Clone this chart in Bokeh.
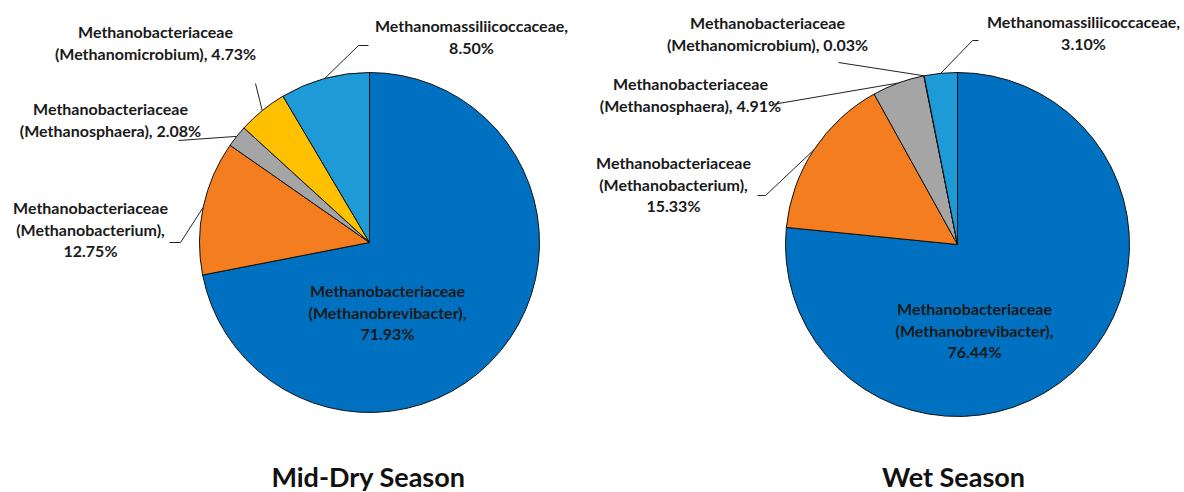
import numpy as np
from bokeh.plotting import figure
from bokeh.models import Range1d, ColumnDataSource
from bokeh.core.properties import value
from bokeh.embed import file_html
from bokeh.resources import INLINE

# ---------------- data ----------------
families = ["Methanobacteriaceae", "Methanobacteriaceae", "Methanobacteriaceae",
            "Methanobacteriaceae", "Methanomassiliicoccaceae"]
genera = ["Methanobrevibacter", "Methanobacterium", "Methanosphaera",
          "Methanomicrobium", ""]
dry_values = [71.93, 12.75, 2.08, 4.73, 8.50]
wet_values = [76.44, 15.33, 4.91, 0.03, 3.10]
season_titles = ["Mid-Dry Season", "Wet Season"]

# ---------------- style / layout ----------------
colors = ["#0070C0", "#F47D20", "#A5A5A5", "#FFC000", "#1E9BD7"]
FONT = "Lato"
TXT = "#1a1a1a"
W, H = 1184, 492


def sy(y):
    return H - y


# label styles: "three" = family / (genus), / pct ; "genus_pct" = family / (genus), pct ; "fam_pct" = family, / pct
pies = [
    dict(values=dry_values, title=season_titles[0], cx=369, cy=242, r=170, title_x=368,
         labels=[
             dict(style="three", x=387, y=290, leader=None),
             dict(style="three", x=90, y=207, leader=[(169, 242), (180, 242)]),
             dict(style="genus_pct", x=110, y=108, leader=[(178, 140)]),
             dict(style="genus_pct", x=155, y=31, leader=[(255, 83)]),
             dict(style="fam_pct", x=471, y=25, leader=[(368, 45), (358, 45)]),
         ]),
    dict(values=wet_values, title=season_titles[1], cx=957, cy=244, r=172, title_x=953,
         labels=[
             dict(style="three", x=974, y=308, leader=None),
             dict(style="three", x=673, y=162, leader=[(757, 195), (765, 195)]),
             dict(style="genus_pct", x=690, y=83, leader=[(772, 104)]),
             dict(style="genus_pct", x=767, y=22, leader=[(838, 62)]),
             dict(style="fam_pct", x=1083, y=21, leader=[(978, 40), (972, 40)]),
         ]),
]

p = figure(width=W, height=H, output_backend="svg", toolbar_location=None,
           x_range=Range1d(0, W), y_range=Range1d(0, H),
           min_border=0, outline_line_color=None)
p.axis.visible = False
p.grid.visible = False
p.background_fill_color = "white"
p.border_fill_color = "white"

LINE_H = 21.5

for pie in pies:
    vals = np.array(pie["values"], dtype=float)
    frac = vals / vals.sum()
    cum = np.concatenate([[0.0], np.cumsum(frac)])
    start = np.pi / 2 - 2 * np.pi * cum[:-1]
    end = np.pi / 2 - 2 * np.pi * cum[1:]
    cx, cyd, r = pie["cx"], sy(pie["cy"]), pie["r"]
    src = ColumnDataSource(dict(start=start, end=end, color=colors))
    p.wedge(x=cx, y=cyd, radius=r, start_angle="start", end_angle="end",
            direction="clock", fill_color="color", line_color="#111111",
            line_width=1, source=src)
    mid = np.pi / 2 - 2 * np.pi * (cum[:-1] + frac / 2)

    tx, ty, tt = [], [], []
    for i, lab in enumerate(pie["labels"]):
        pct = f"{pie['values'][i]:.2f}%"
        if lab["style"] == "three":
            lines = [families[i], f"({genera[i]}),", pct]
        elif lab["style"] == "genus_pct":
            lines = [families[i], f"({genera[i]}), {pct}"]
        else:
            lines = [families[i] + ",", pct]
        for k, ln in enumerate(lines):
            tx.append(lab["x"])
            ty.append(sy(lab["y"] + k * LINE_H))
            tt.append(ln)
        if lab["leader"]:
            ex = cx + r * np.cos(mid[i])
            ey = cyd + r * np.sin(mid[i])
            xs = [pt[0] for pt in lab["leader"]] + [ex]
            ys = [sy(pt[1]) for pt in lab["leader"]] + [ey]
            p.line(xs, ys, line_color="#222222", line_width=1)
    p.text(x=tx, y=ty, text=tt, text_align="center", text_baseline="middle",
           text_font=value(FONT), text_font_style="bold", text_font_size="16px",
           text_color=TXT)
    p.text(x=[pie["title_x"]], y=[sy(476)], text=[pie["title"]], text_align="center",
           text_baseline="middle", text_font=value(FONT), text_font_style="bold",
           text_font_size="27px", text_color="#111111")

open("out.html", "w").write(file_html(p, INLINE))
